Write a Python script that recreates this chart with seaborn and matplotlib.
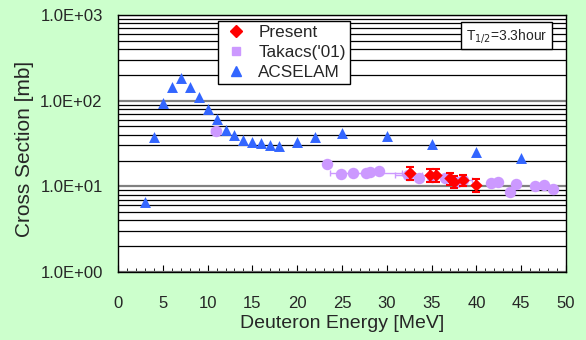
import numpy as np
import pandas as pd
import matplotlib
matplotlib.use("Agg")
import matplotlib.pyplot as plt
from matplotlib.lines import Line2D
from matplotlib.ticker import LogLocator, FixedLocator, NullFormatter, MultipleLocator
import seaborn as sns

# ---- data ----
acs_E = [3, 4, 5, 6, 7, 8, 9, 10, 11, 12, 13, 14, 15, 16, 17, 18, 20, 22, 25, 30, 35, 40, 45]
acs_xs = [6.6, 38, 95, 143, 182, 146, 111, 81, 60.5, 46, 39.4, 34.7, 33, 31.8, 30.5, 29.8,
          32.9, 38, 41.5, 38.7, 31, 25.3, 21.2]

tak_E = [10.9, 23.3, 24.85, 26.2, 27.7, 28.1, 29.1, 32.4, 33.6, 35.0, 36.5, 37.8, 38.5,
         41.6, 42.4, 43.75, 44.4, 46.5, 47.5, 48.5]
tak_xs = [44.2, 18.1, 14.0, 14.2, 14.4, 14.6, 15.2, 13.6, 12.4, 13.0, 12.4, 11.3, 11.8,
          10.8, 11.2, 8.65, 10.6, 10.2, 10.4, 9.3]
tak_xerr = [0.5, 0, 0, 0, 4.0, 0, 0, 1.5, 0, 0, 0, 0, 1.0, 0, 0, 0, 0, 0, 0, 0]
tak_yerr_frac = [0.08, 0.08, 0.08, 0.08, 0.08, 0.08, 0.08, 0.08, 0.08, 0.08, 0.08, 0.08,
                 0.08, 0.08, 0.08, 0.08, 0.08, 0.08, 0.08, 0.08]

pre_E = [32.6, 34.8, 35.5, 37.05, 37.5, 38.5, 40.0]
pre_xs = [14.2, 13.6, 13.6, 12.4, 11.3, 11.9, 10.4]
pre_yerr = [2.5, 2.3, 2.3, 2.0, 1.8, 1.8, 1.7]

y_ticks = [1, 10, 100, 1000]
y_labels = ["1.0E+00", "1.0E+01", "1.0E+02", "1.0E+03"]
x_ticks = [0, 5, 10, 15, 20, 25, 30, 35, 40, 45, 50]

# ---- style ----
sns.set_theme(style="white")
plt.rcParams['font.family'] = ['Liberation Sans', 'DejaVu Sans']

BG = "#CCFFCC"
RED = "#FF0000"
PURPLE = "#CC99FF"
BLUE = "#3366FF"

W, H = 586, 340
L, R, T, B = 118, 566, 15, 272

fig = plt.figure(figsize=(W/100, H/100), dpi=100, facecolor=BG)
ax = fig.add_axes([L/W, 1-B/H, (R-L)/W, (B-T)/H])
ax.set_facecolor("white")

ax.set_yscale("log")
ax.set_ylim(1, 1000)
ax.set_xlim(0, 50)

# grid
ax.yaxis.set_major_locator(FixedLocator(y_ticks))
ax.yaxis.set_minor_locator(LogLocator(base=10, subs=np.arange(2, 10)))
ax.yaxis.set_minor_formatter(NullFormatter())
ax.set_yticklabels(y_labels)
ax.grid(False)
ax.yaxis.grid(True, which="major", color="#808080", linewidth=1.6)
ax.yaxis.grid(True, which="minor", color="#000000", linewidth=0.9)
ax.set_axisbelow(True)

ax.xaxis.set_major_locator(FixedLocator(x_ticks))
ax.xaxis.set_minor_locator(MultipleLocator(1))
ax.tick_params(axis="x", which="major", direction="in", length=5, width=0.8, color="black",
               labelsize=12, pad=17.5, bottom=True)
ax.tick_params(axis="x", which="minor", direction="in", length=3, width=0.6, color="black",
               bottom=True)
ax.tick_params(axis="y", which="both", length=0, labelsize=12, pad=11)

for s in ax.spines.values():
    s.set_color("black")
    s.set_linewidth(1.0)

# error bars
tak_yerr = [f * v for f, v in zip(tak_yerr_frac, tak_xs)]
ax.errorbar(tak_E, tak_xs, xerr=tak_xerr, yerr=tak_yerr, fmt="none", ecolor=PURPLE,
            elinewidth=1.0, capsize=2, zorder=3)
ax.errorbar(pre_E, pre_xs, yerr=pre_yerr, fmt="none", ecolor=RED, elinewidth=1.5,
            capsize=3, capthick=1.5, zorder=4)

df_acs = pd.DataFrame({"E": acs_E, "xs": acs_xs})
df_tak = pd.DataFrame({"E": tak_E, "xs": tak_xs})
df_pre = pd.DataFrame({"E": pre_E, "xs": pre_xs})

sns.scatterplot(data=df_tak, x="E", y="xs", ax=ax, marker="o", s=68, color=PURPLE,
                edgecolor=PURPLE, linewidth=0, zorder=3.5)
sns.scatterplot(data=df_pre, x="E", y="xs", ax=ax, marker="D", s=40, color=RED,
                edgecolor=RED, linewidth=0, zorder=5)
sns.scatterplot(data=df_acs, x="E", y="xs", ax=ax, marker="^", s=62, color=BLUE,
                edgecolor=BLUE, linewidth=0, zorder=5)

ax.set_xlabel("")
ax.set_ylabel("")
fig.text((L+R)/2/W, 1-323/H, "Deuteron Energy [MeV]", fontsize=14, ha="center", va="center")
fig.text(25/W, 1-148.5/H, "Cross Section [mb]", fontsize=15, ha="center", va="center",
         rotation=90)

handles = [
    Line2D([], [], marker="D", color=RED, linestyle="none", markersize=6),
    Line2D([], [], marker="s", color=PURPLE, linestyle="none", markersize=6),
    Line2D([], [], marker="^", color=BLUE, linestyle="none", markersize=7),
]
leg = ax.legend(handles, ["Present", "Takacs('01)", "ACSELAM"], loc="upper left",
                bbox_to_anchor=((218-L)/(R-L), 1-(21-T)/(B-T)), fontsize=12.3,
                frameon=True, fancybox=False, framealpha=1, edgecolor="black",
                handletextpad=0.5, borderpad=0.25, labelspacing=0.28, handlelength=1.6,
                borderaxespad=0)
leg.get_frame().set_linewidth(1.0)

ax.text((464-L)/(R-L) + 0.005, 1-(35.5-T)/(B-T), r"T$_{1/2}$=3.3hour",
        transform=ax.transAxes, fontsize=10, va="center", ha="left", zorder=10,
        bbox=dict(boxstyle="square,pad=0.35", facecolor="white", edgecolor="black",
                  linewidth=1.0))

fig.savefig("out.png", dpi=100, facecolor=BG)
